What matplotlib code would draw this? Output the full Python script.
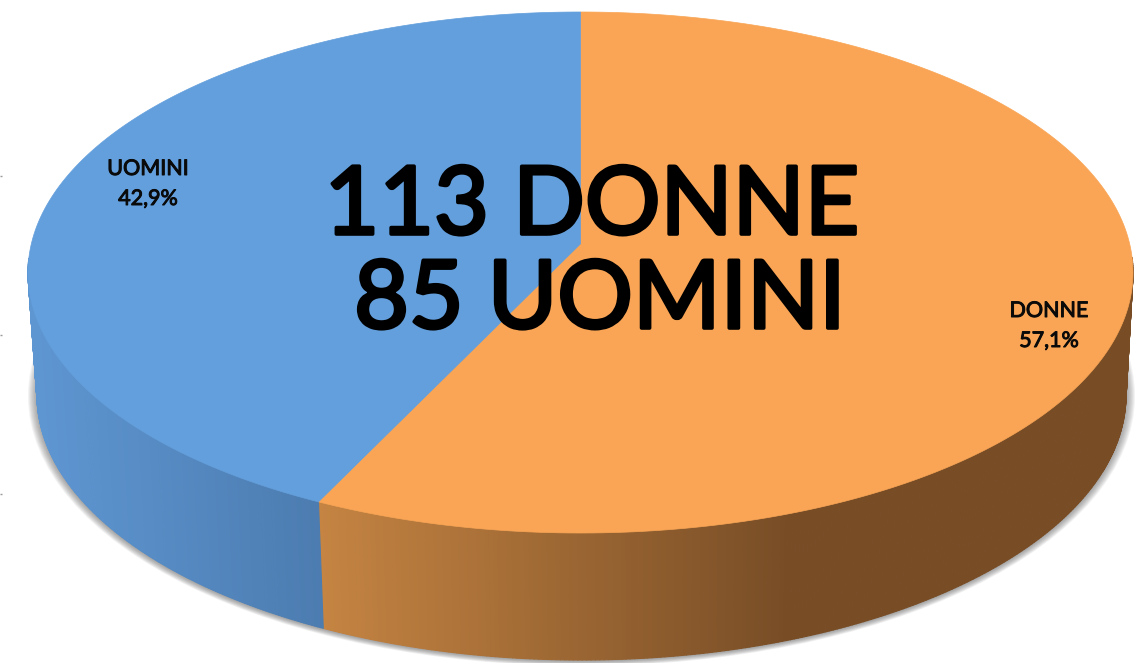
import numpy as np
import matplotlib
matplotlib.use("Agg")
import matplotlib.pyplot as plt
from matplotlib.collections import PolyCollection
from matplotlib.colors import to_rgb
from matplotlib.patches import Polygon, Ellipse
import matplotlib.patheffects as pe

categories = ["DONNE", "UOMINI"]
counts = [113, 85]
share_labels = ["57,1%", "42,9%"]
headline = ["113 DONNE", "85 UOMINI"]

top_colors = ["#F9A555", "#639FDC"]
side_left = ["#C58442", "#5E96D2"]
side_right = ["#784D26", "#4C7CB0"]

TOP = (580.5, 272.5, 552.5, 260.5)
BOT = (581.5, 395.0, 544.5, 265.0)
TILT = 0.11


def rim(theta):
    """theta clockwise from 12 o'clock -> unit-ellipse coords with perspective."""
    X, Y = np.sin(theta), np.cos(theta)
    d = 1 + TILT * Y
    return X * np.sqrt(1 - TILT ** 2) / d, (Y + TILT) / d


def place(u, v, e):
    return e[0] + u * e[2], e[1] - v * e[3]


def ramp(x, x0, x1, c0, c1):
    t = np.clip((x - x0) / (x1 - x0), 0, 1)
    a, b = np.array(to_rgb(c0)), np.array(to_rgb(c1))
    return tuple(a + (b - a) * t)


fig = plt.figure(figsize=(11.46, 6.63), dpi=100, facecolor="white")
ax = fig.add_axes([0, 0, 1, 1])
ax.set_xlim(0, 1146)
ax.set_ylim(663, 0)
ax.axis("off")

# soft shadow
for grow in np.linspace(9, 0, 10):
    ax.add_patch(Ellipse((BOT[0], BOT[1] + 1), 2 * (BOT[2] + grow), 2 * (BOT[3] + grow * 0.55),
                         fc="#555555", ec="none", alpha=0.07, zorder=1))

frac = np.cumsum([0] + counts) / sum(counts)
gradient = [(320, 790), (35, 320)]
for k in range(len(counts)):
    a0, a1 = 2 * np.pi * frac[k], 2 * np.pi * frac[k + 1]
    th = np.linspace(a0, a1, 500)
    u, v = rim(th)
    tx, ty = place(u, v, TOP)
    bx, by = place(u, v, BOT)

    # side wall: only the front half of the rim
    polys, cols = [], []
    for i in range(len(th) - 1):
        if v[i] > 0.05 and v[i + 1] > 0.05:
            continue
        polys.append([(tx[i], ty[i]), (tx[i + 1], ty[i + 1]), (bx[i + 1], by[i + 1]), (bx[i], by[i])])
        cols.append(ramp(tx[i], gradient[k][0], gradient[k][1], side_left[k], side_right[k]))
    ax.add_collection(PolyCollection(polys, facecolors=cols, edgecolors=cols, linewidths=0.8, zorder=2))

for k in range(len(counts)):
    a0, a1 = 2 * np.pi * frac[k], 2 * np.pi * frac[k + 1]
    th = np.linspace(a0, a1, 500)
    u, v = rim(th)
    tx, ty = place(u, v, TOP)
    cx, cy = place(0.0, TILT, TOP)
    ax.add_patch(Polygon(np.column_stack([np.r_[cx, tx], np.r_[cy, ty]]), closed=True,
                         fc=top_colors[k], ec=top_colors[k], lw=0.5, zorder=3))

font = ["Lato", "DejaVu Sans"]
halo = [pe.withStroke(linewidth=2.6, foreground="#000000")]
for s, x, y in zip(headline, (592, 600), (200, 294)):
    ax.text(x, y, s, fontsize=68, family=font, color="black", ha="center", va="center_baseline",
            path_effects=halo, zorder=6)

small = [pe.withStroke(linewidth=0.7, foreground="#0a0a0a")]
label_pos = [(1049, 309), (148, 167)]
for name, share, (x, y) in zip(categories, share_labels, label_pos):
    ax.text(x, y, name, fontsize=15.5, family=font, color="#0a0a0a", ha="center",
            va="center_baseline", path_effects=small, zorder=6)
    ax.text(x, y + 30, share, fontsize=15.5, family=font, color="#0a0a0a", ha="center",
            va="center_baseline", path_effects=small, zorder=6)

for y in (176, 335, 494):
    ax.plot([0, 1.5], [y, y], color="#9a9a9a", lw=1, zorder=1, solid_capstyle="butt")

fig.savefig("out.png", dpi=100)
